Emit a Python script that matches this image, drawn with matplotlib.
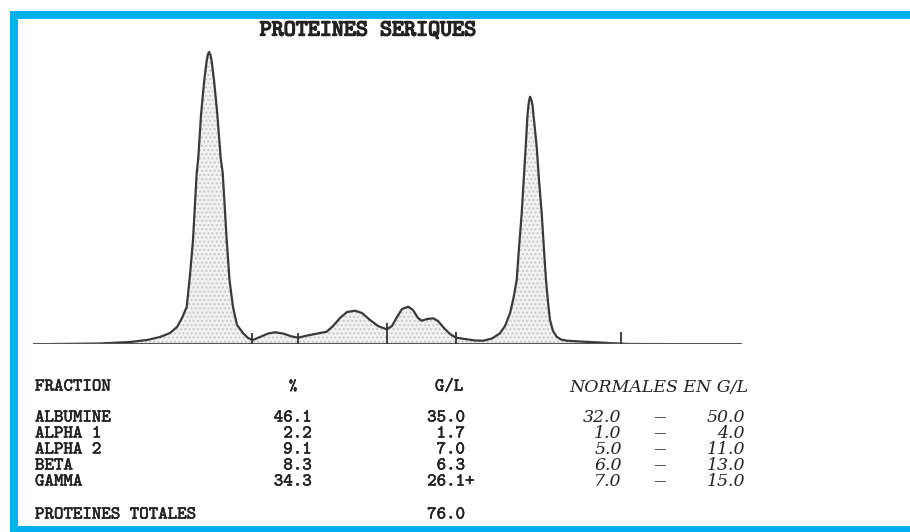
import matplotlib.pyplot as plt
import matplotlib.patheffects as pe
from matplotlib.patches import Rectangle

# densitometer scan: position (scan steps) / optical density
scan_pos = [0, 67, 97, 114, 127, 137, 144, 149, 153.7, 157, 160, 163.7, 165.3, 168,
            171.3, 173.5, 174.8, 176, 177.3, 178.5, 181, 184.2, 187.7, 189.7, 193.7, 196.5,
            200, 204, 210, 215, 219.7, 227, 235, 242, 250, 259, 265.3, 272, 282, 293.7,
            300, 307, 314, 322, 329, 337, 345, 353.7, 359, 364, 369, 375.3, 380, 385,
            388.7, 394, 400.3, 405, 411, 417, 423, 432, 442, 450.3, 459, 467, 472, 477,
            480.5, 483.7, 486, 488.7, 491, 492.7, 494.5, 495.8, 497, 498.2, 499.5, 501.5,
            503.7, 506, 508.7, 511, 513, 515, 517, 520, 523.7, 528, 533.7, 547, 567, 580,
            597, 709]
scan_od = [0, 0.8, 2.3, 4.3, 7.3, 11.3, 17.3, 26.3, 37.3, 69.3, 104.3, 171.3, 186.3, 229.3,
           264.3, 282.3, 289.5, 292.3, 290, 284.3, 264.3, 231.3, 186.3, 171.3, 104.3, 64.3,
           37.3, 19.3, 11.3, 6.3, 4.3, 7.3, 10.8, 12, 10.8, 7.8, 6.6, 8.3, 10.3, 12.6,
           18.3, 26.3, 32.3, 33.6, 31.3, 24.3, 18.3, 15, 18.3, 27.3, 35.3, 37.6, 34.3, 26.3,
           23.6, 25.3, 26, 23.3, 16.3, 10.3, 6.6, 5.3, 3.8, 3.6, 5.8, 11, 18.3, 31,
           46.3, 64.3, 96.3, 131, 169.3, 197.6, 229.3, 242, 247.6, 245, 239.3, 219.3,
           197.6, 164.3, 131, 94.3, 64.3, 42.3, 24.3, 13.3, 7.6, 4.8, 3.6, 2.8, 1.8, 1,
           0.3, 0]
separators = [219.3, 265.3, 353.7, 423, 588]
separator_top = [11.3, 11.6, 21.3, 12.6, 12.6]

fractions = ["ALBUMINE", "ALPHA 1", "ALPHA 2", "BETA", "GAMMA"]
percent = [46.1, 2.2, 9.1, 8.3, 34.3]
grams = [35.0, 1.7, 7.0, 6.3, 26.1]
flags = ["", "", "", "", "+"]
normal_low = [32.0, 1.0, 5.0, 6.0, 7.0]
normal_high = [50.0, 4.0, 11.0, 13.0, 15.0]
total = 76.0

W, H = 910, 532
fig = plt.figure(figsize=(W / 100, H / 100), dpi=100)
fig.patch.set_facecolor("white")


def fx(x):
    return x / W


def fy(y):
    return 1 - y / H


# blue frame around the printout
blue = "#00b0f0"
fig.add_artist(Rectangle((fx(10), fy(19)), 1, fy(11) - fy(19), transform=fig.transFigure, color=blue, lw=0))
fig.add_artist(Rectangle((fx(10), 0), fx(18) - fx(10), fy(11), transform=fig.transFigure, color=blue, lw=0))
fig.add_artist(Rectangle((fx(10), 0), 1, fy(526), transform=fig.transFigure, color=blue, lw=0))

# electrophoresis curve
ax = fig.add_axes([fx(33), fy(344.3), fx(742) - fx(33), 300 / H])
ax.set_xlim(0, 709)
ax.set_ylim(0, 300)
ax.axis("off")
ax.fill_between(scan_pos, scan_od, 0, facecolor="#f2f2f2", edgecolor="#c8c8c8", hatch="....", linewidth=0)
ax.plot(scan_pos, scan_od, color="#3a3a3a", lw=1.6)
ax.hlines(0, scan_pos[0], scan_pos[-1], color="#555555", lw=2.2)
ax.vlines(separators, -2, separator_top, color="#333333", lw=1.3)

# printed report text
ink = "#222222"
mono = "cmtt10"
serif = "DejaVu Serif"
bold = [pe.withStroke(linewidth=1.0, foreground=ink)]
semi = [pe.withStroke(linewidth=0.4, foreground=ink)]


def put(x, y, s, ha="left", size=13, effects=semi, **kw):
    fig.text(fx(x), fy(y), s, ha=ha, va="center", fontsize=size, color=ink,
             path_effects=effects, **kw)


put(368, 31, "PROTEINES SERIQUES", ha="center", size=16.5, effects=bold, family=mono)

put(35, 387, "FRACTION", family=mono)
put(293, 387, "%", ha="center", family=mono, size=11)
put(449, 387, "G/L", ha="center", family=mono)
put(659, 387, "NORMALES EN G/L", ha="center", family=serif, style="italic", size=12.5, effects=None)

row_y = [418, 434, 450, 466, 482]
for i, y in enumerate(row_y):
    put(35, y, fractions[i], family=mono)
    put(311.7, y, f"{percent[i]:.1f}", ha="right", family=mono)
    put(465, y, f"{grams[i]:.1f}", ha="right", family=mono)
    if flags[i]:
        put(465, y, flags[i], family=mono)
    put(621.7, y, f"{normal_low[i]:.1f}", ha="right", family=serif, style="italic", size=12.5, effects=None)
    put(660, y, "\u2014", ha="center", family=serif, size=9, effects=None)
    put(745, y, f"{normal_high[i]:.1f}", ha="right", family=serif, style="italic", size=12.5, effects=None)

put(35, 515, "PROTEINES TOTALES", family=mono)
put(465, 515, f"{total:.1f}", ha="right", family=mono)

fig.savefig("out.png", dpi=100, facecolor="white")
